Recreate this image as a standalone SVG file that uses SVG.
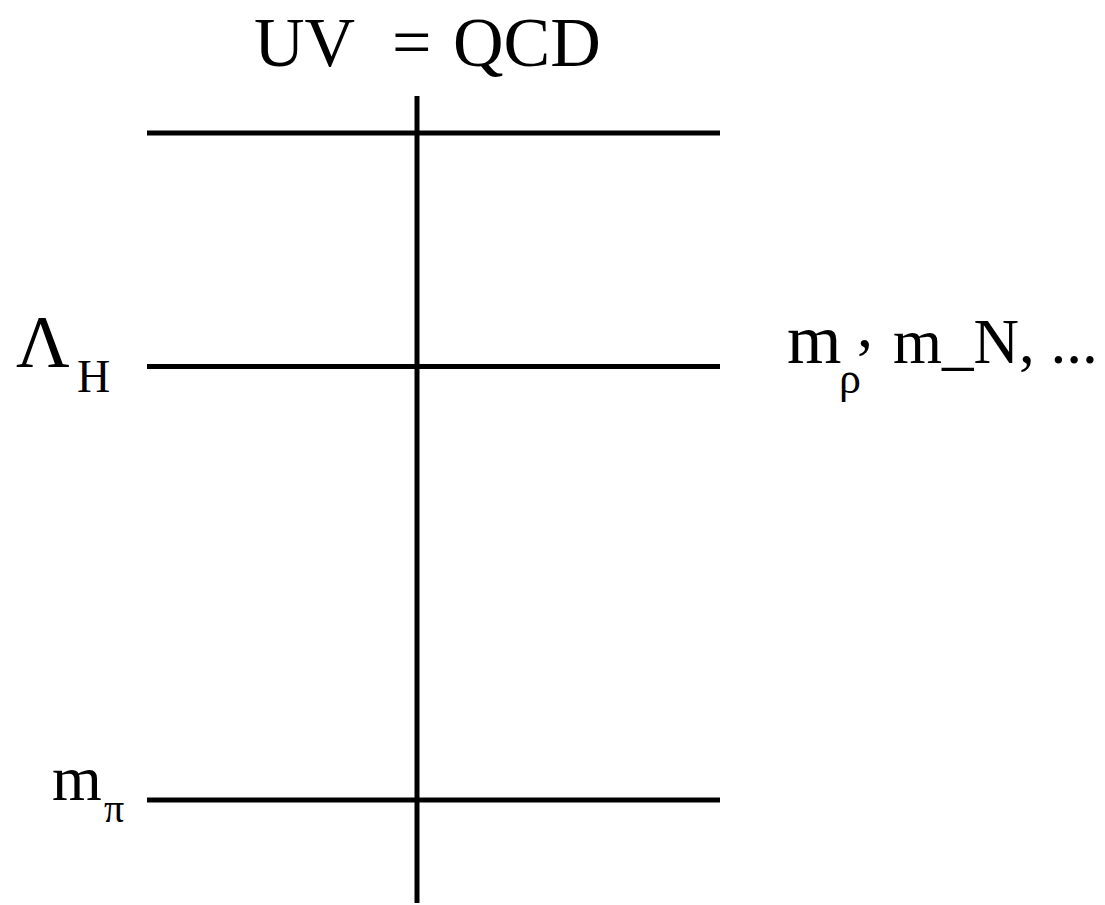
<svg xmlns="http://www.w3.org/2000/svg" width="1105" height="905" viewBox="0 0 1105 905">
<rect width="1105" height="905" fill="#fff"/>
<g id="connectors" stroke="#000" stroke-width="5" fill="none">
<line x1="417" y1="96" x2="417" y2="903"/>
<line x1="147" y1="133" x2="720" y2="133"/>
<line x1="147" y1="366.5" x2="720" y2="366.5"/>
<line x1="147" y1="800" x2="720" y2="800"/>
</g>
<g id="title" fill="#000">
<text x="254" y="66" font-size="70" font-family="Liberation Serif">UV</text>
<text x="392" y="66" font-size="70" font-family="Liberation Serif">=</text>
<text x="453" y="66" font-size="70" font-family="Liberation Serif">QCD</text>
</g>
<g id="lambdaH" fill="#000">
<text x="16" y="367" font-size="74" font-family="Liberation Serif">Λ</text>
<text x="77" y="392" font-size="46" font-family="Liberation Serif">H</text>
</g>
<g id="right-label" fill="#000">
<text x="787" y="363" font-size="70" font-family="Liberation Serif">m</text>
<text x="839" y="393" font-size="44" font-family="Liberation Serif">ρ</text>
<text x="857" y="347" font-size="64" font-family="Liberation Serif">,</text>
<text x="893" y="363" font-size="63" font-family="Liberation Serif">m_N, ...</text>
</g>
<g id="mpi" fill="#000">
<text x="52" y="800" font-size="64" font-family="Liberation Serif">m</text>
<text x="104" y="822" font-size="40" font-family="Liberation Serif">π</text>
</g>
</svg>
